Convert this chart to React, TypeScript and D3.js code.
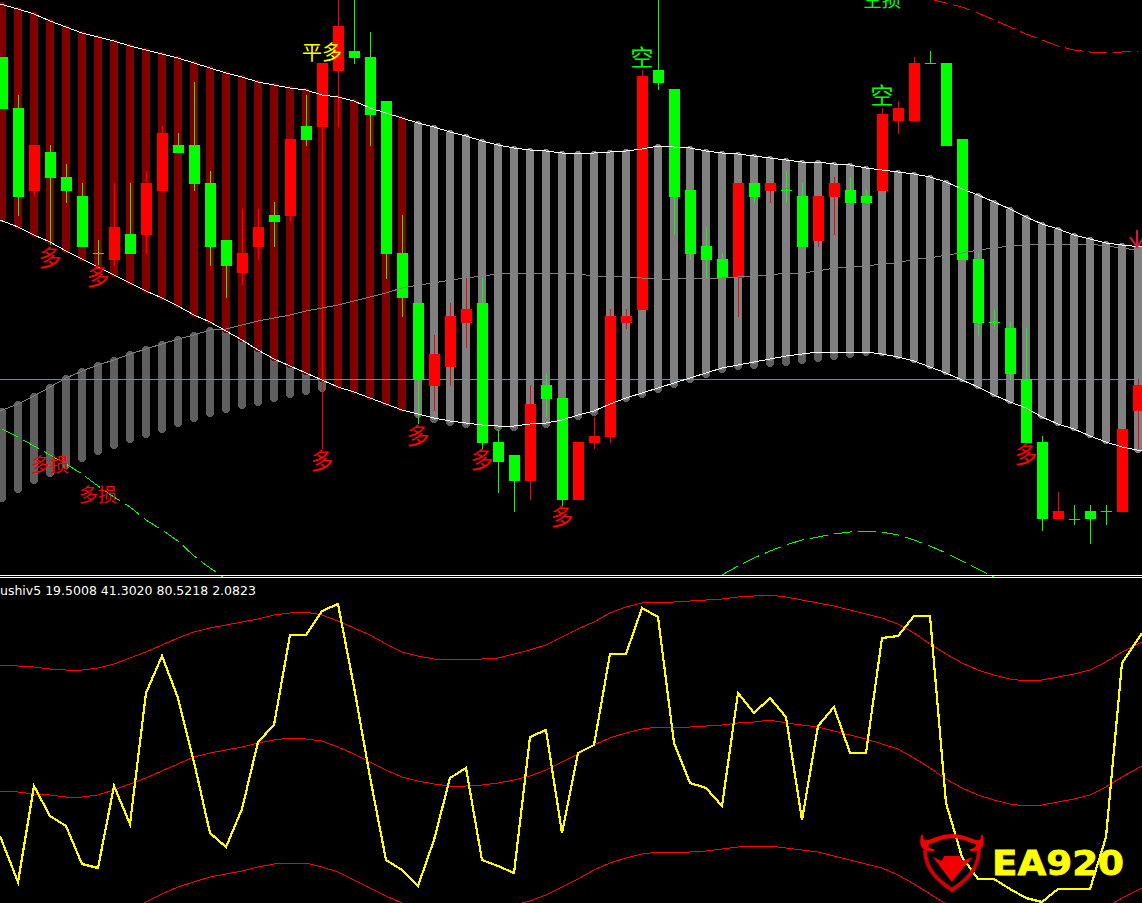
import React from 'react';
import * as d3 from 'd3';

const WIDTH = 1142;
const HEIGHT = 903;
const MAIN_BOTTOM = 575;

// candles, top to bottom in pane units
const candleColors = [
  'G', 'G', 'R', 'G', 'G', 'G', 'G', 'R', 'G', 'R',
  'R', 'G', 'G', 'G', 'G', 'R', 'R', 'G', 'R', 'G',
  'R', 'R', 'G', 'G', 'G', 'G', 'G', 'R', 'R', 'R',
  'G', 'G', 'G', 'R', 'G', 'G', 'R', 'R', 'R', 'R',
  'R', 'G', 'G', 'G', 'G', 'G', 'R', 'G', 'R', 'G',
  'G', 'R', 'R', 'G', 'G', 'R', 'R', 'R', 'G', 'G',
  'G', 'G', 'G', 'G', 'G', 'G', 'R', 'G', 'G', 'G',
  'R', 'R',
];
const wickTop = [
  57, 95, 145, 145, 164, 183, 240, 183, 183, 171, 126, 133, 82, 171, 240, 209, 209, 202,
  139, 95, 63, 0, 0, 32, 101, 215, 303, 335, 303, 278, 278, 430, 455, 385, 373, 398,
  442, 417, 309, 309, 70, 0, 89, 190, 227, 253, 183, 183, 183, 171, 183, 196, 177, 177,
  190, 108, 101, 57, 51, 63, 139, 253, 309, 322, 328, 436, 492, 505, 505, 505, 429, 379,
];
const wickBottom = [
  109, 216, 197, 245, 203, 247, 265, 266, 254, 254, 191, 153, 191, 266, 298, 285, 260, 247,
  222, 146, 449, 127, 64, 146, 279, 317, 424, 411, 386, 348, 449, 493, 512, 500, 418, 506,
  500, 449, 443, 329, 310, 90, 235, 260, 278, 278, 317, 203, 203, 203, 247, 247, 235, 203,
  203, 191, 134, 121, 63, 146, 260, 336, 329, 380, 443, 531, 519, 525, 544, 525, 512, 449,
];
const bodyTop = [
  57, 108, 145, 152, 177, 196, 253, 227, 234, 183, 133, 145, 145, 183, 240, 253, 227, 215,
  139, 126, 63, 26, 51, 57, 101, 253, 303, 354, 316, 309, 303, 442, 455, 404, 385, 398,
  442, 436, 316, 316, 76, 70, 89, 190, 246, 259, 183, 183, 183, 190, 196, 196, 183, 190,
  196, 114, 108, 63, 63, 63, 139, 259, 322, 328, 379, 442, 511, 519, 511, 511, 429, 385,
];
const bodyBottom = [
  109, 197, 191, 178, 191, 247, 253, 260, 254, 235, 191, 153, 184, 247, 266, 273, 247, 222,
  216, 140, 127, 71, 58, 115, 254, 298, 380, 386, 367, 323, 443, 462, 481, 481, 399, 500,
  500, 443, 437, 323, 310, 83, 197, 254, 260, 278, 278, 197, 191, 190, 247, 241, 197, 203,
  203, 191, 121, 121, 63, 146, 260, 323, 322, 374, 443, 519, 519, 519, 519, 511, 512, 411,
];

// channel around the candles
const upperBand = [
  4, 9, 14, 21, 27, 33, 37, 41, 46, 50, 54, 58, 63, 68, 73, 77, 82, 85,
  88, 90, 95, 97, 101, 108, 113, 118, 123, 127, 132, 136, 141, 145, 148, 150, 151, 153,
  153, 153, 152, 151, 149, 146, 147, 148, 151, 153, 154, 156, 158, 160, 162, 162, 164, 165,
  168, 170, 172, 174, 177, 182, 189, 195, 202, 209, 217, 224, 229, 235, 239, 243, 245, 247,
];
const lowerBand = [
  220, 227, 235, 242, 251, 259, 267, 275, 283, 291, 298, 306, 315, 322, 331, 340, 350, 359,
  366, 373, 380, 387, 392, 398, 404, 410, 414, 418, 421, 423, 425, 426, 426, 424, 423, 420,
  415, 411, 404, 398, 393, 388, 383, 378, 373, 368, 365, 362, 359, 356, 354, 352, 352, 352,
  352, 354, 357, 361, 367, 373, 380, 387, 395, 402, 408, 417, 424, 429, 436, 442, 447, 451,
];
const midLine = [
  411, 404, 396, 387, 378, 371, 365, 360, 354, 349, 344, 339, 335, 330, 329, 325, 321, 318,
  315, 311, 308, 305, 301, 297, 293, 288, 285, 283, 280, 278, 276, 274, 273, 273, 273, 273,
  274, 276, 276, 277, 278, 279, 279, 278, 278, 278, 277, 276, 275, 273, 273, 271, 268, 267,
  266, 264, 263, 259, 258, 255, 253, 250, 248, 246, 245, 244, 244, 244, 244, 246, 248, 251,
];
const dimBottom = [
  502, 493, 484, 477, 469, 462, 455, 449, 443, 438, 433, 427, 422, 417, 413, 409, 406, 402,
  398, 395, 392, 388, 390, 395, 400, 408, 418, 423, 426, 428, 430, 431, 431, 429, 428, 425,
  420, 416, 408, 402, 398, 393, 388, 383, 378, 373, 370, 369, 367, 366, 364, 362, 360, 358,
  356, 355, 358, 362, 368, 374, 381, 388, 396, 403, 409, 418, 425, 430, 437, 443, 448, 452,
];
const redBarCount = 26;
const priceLevel = 379;

// stop lines, each with the bar it starts on
const stopGreenLeft = [429, 437, 446, 455, 464, 474, 486, 497, 507, 520, 530, 541, 556, 568, 579];
const stopGreenRightStart = 45;
const stopGreenRight = [575, 566, 558, 551, 545, 540, 537, 534, 532, 531, 532, 535, 540, 546, 553, 561, 569, 577];
const stopRedStart = 58;
const stopRed = [-1, 3, 7, 13, 20, 27, 34, 40, 46, 50, 52, 52, 52, 51];

// bottom pane
const rsiLine = [
  836, 882, 786, 816, 826, 864, 868, 786, 824, 693, 656, 698, 762, 833, 847, 809, 742, 725,
  635, 635, 611, 604, 687, 777, 860, 870, 886, 840, 778, 768, 860, 866, 873, 737, 730, 833,
  753, 745, 654, 654, 608, 617, 743, 783, 788, 806, 693, 713, 698, 717, 820, 726, 707, 753,
  753, 638, 636, 616, 616, 803, 857, 879, 879, 889, 898, 902, 889, 889, 889, 837, 663, 633,
];
const rsiUpper = [
  665, 666, 667, 669, 670, 670, 668, 664, 658, 652, 645, 638, 632, 628, 625, 622, 619, 615,
  613, 612, 615, 621, 628, 635, 644, 652, 656, 659, 659, 659, 659, 658, 654, 650, 645, 637,
  629, 622, 613, 607, 603, 602, 602, 601, 600, 599, 597, 596, 595, 597, 600, 603, 606, 610,
  614, 618, 624, 633, 644, 654, 663, 670, 675, 679, 681, 680, 677, 674, 670, 662, 652, 642,
];
const rsiMiddle = [
  791, 792, 794, 795, 797, 797, 795, 790, 784, 778, 771, 764, 757, 753, 750, 747, 743, 740,
  738, 739, 741, 747, 754, 762, 770, 777, 781, 784, 786, 786, 785, 783, 780, 776, 770, 762,
  754, 745, 738, 733, 729, 727, 727, 727, 726, 725, 723, 722, 720, 723, 725, 727, 731, 735,
  739, 744, 749, 758, 768, 779, 788, 795, 800, 804, 806, 805, 802, 799, 795, 787, 777, 766,
];
const rsiLower = [
  916, 917, 919, 920, 922, 922, 920, 915, 909, 902, 894, 887, 882, 877, 874, 871, 867, 864,
  863, 863, 867, 872, 880, 888, 896, 903, 906, 909, 911, 911, 910, 908, 905, 901, 895, 887,
  879, 870, 863, 858, 854, 852, 852, 852, 851, 849, 847, 846, 846, 848, 850, 852, 856, 860,
  864, 868, 875, 884, 894, 904, 913, 920, 925, 929, 931, 930, 927, 924, 918, 908, 898, 888,
];

// arrow labels on the chart
const labelTexts = ['多', '多', '多', '多', '多', '多', '多', '多损', '多损', '平多', '空', '空', '空损'];
const labelBars = [3, 6, 20, 26, 30, 35, 64, 3, 6, 20, 40, 55, 55];
const labelLevels = [258, 277, 461, 436, 460, 517, 455, 465, 495, 53, 58, 96, 0];
const labelSizes = [23, 23, 23, 23, 23, 23, 23, 19, 19, 20, 23, 23, 19];
const labelColors = ['#ff0000', '#ff0000', '#ff0000', '#ff0000', '#ff0000', '#ff0000', '#ff0000', '#ff0000', '#ff0000', '#ffff00', '#00ff00', '#00ff00', '#00ff00'];

const caption = 'ushiv5 19.5008 41.3020 80.5218 2.0823';

const x = d3.scaleLinear().domain([0, 71]).range([2, 1138]);
const y = d3.scaleLinear().domain([0, HEIGHT]).range([0, HEIGHT]);

const pathFrom = (values: number[], start = 0) =>
  d3
    .line<number>()
    .x((_, i) => x(i + start))
    .y((d) => y(d))(values) ?? '';

// full-width series run right up to the pane edges
const edgePath = (values: number[]) =>
  d3
    .line<number>()
    .x((_, i) => (i === 0 ? 0 : i === values.length - 1 ? WIDTH : x(i)))
    .y((d) => y(d))(values) ?? '';

const App: React.FC = () => {
  return (
    <svg
      width={WIDTH}
      height={HEIGHT}
      style={{ position: 'absolute', left: 0, top: 0, background: '#000' }}>
      {/* histogram behind the candles */}
      <g shapeRendering="crispEdges">
        {midLine.map((d, i) => (
          <rect key={i} x={x(i) - 4} y={y(d - 3)} width={8} height={y(dimBottom[i]) - y(d - 3)} rx={4} fill="#5f5f5f" />
        ))}
        {upperBand.map((d, i) => (
          <rect
            key={i}
            x={x(i) - 4}
            y={y(d - 2)}
            width={8}
            height={y(lowerBand[i] + 2) - y(d - 2)}
            rx={4}
            fill={i < redBarCount ? '#800000' : '#808080'}
          />
        ))}
        <line x1={0} x2={WIDTH} y1={y(priceLevel) + 0.5} y2={y(priceLevel) + 0.5} stroke="#778899" />
      </g>

      {/* candles */}
      <g shapeRendering="crispEdges">
        {wickTop.map((d, i) => {
          const color = candleColors[i] === 'G' ? '#00ff00' : '#ff0000';
          return (
            <g key={i}>
              <rect x={x(i)} y={y(d)} width={1} height={y(wickBottom[i]) - y(d)} fill={color} />
              <rect
                x={x(i) - 5}
                y={y(bodyTop[i])}
                width={11}
                height={Math.max(1, y(bodyBottom[i]) - y(bodyTop[i]))}
                fill={color}
              />
            </g>
          );
        })}
      </g>

      {/* channel and stop lines */}
      <g fill="none" shapeRendering="crispEdges">
        <path d={edgePath(midLine)} stroke="#808080" />
        <path d={edgePath(upperBand)} stroke="#ffffff" />
        <path d={edgePath(lowerBand)} stroke="#ffffff" />
        <path d={pathFrom(stopGreenLeft)} stroke="#00ff00" strokeDasharray="18 6" />
        <path d={pathFrom(stopGreenRight, stopGreenRightStart)} stroke="#00ff00" strokeDasharray="18 6" />
        <path d={pathFrom(stopRed, stopRedStart)} stroke="#ff0000" strokeDasharray="18 6" />
      </g>

      {/* down arrow on the last bar */}
      <g fill="none" stroke="#dc143c" strokeWidth={2}>
        <line x1={x(71) - 1} x2={x(71) - 1} y1={y(230)} y2={y(247)} />
        <path d={`M${x(71) - 8} ${y(237)}L${x(71) - 1} ${y(247)}L${x(71) + 6} ${y(237)}`} />
      </g>

      {/* labels */}
      <g fontFamily="'Noto Sans CJK SC'" textAnchor="middle" dominantBaseline="central">
        {labelTexts.map((t, i) => (
          <text key={i} x={x(labelBars[i])} y={y(labelLevels[i]) - 2} fontSize={labelSizes[i]} fill={labelColors[i]}>
            {t}
          </text>
        ))}
      </g>

      {/* pane separator */}
      <g stroke="#ffffff" shapeRendering="crispEdges">
        <line x1={0} x2={WIDTH} y1={MAIN_BOTTOM + 0.5} y2={MAIN_BOTTOM + 0.5} />
        <line x1={0} x2={WIDTH} y1={MAIN_BOTTOM + 2.5} y2={MAIN_BOTTOM + 2.5} />
      </g>
      <rect x={0} y={MAIN_BOTTOM + 3} width={WIDTH} height={HEIGHT - MAIN_BOTTOM - 3} fill="#000" />

      <text x={0} y={595} fontFamily="'DejaVu Sans'" fontSize={12.5} fill="#ffffff">
        {caption}
      </text>

      {/* bottom pane */}
      <g fill="none" shapeRendering="crispEdges">
        <path d={edgePath(rsiUpper)} stroke="#ff0000" />
        <path d={edgePath(rsiMiddle)} stroke="#ff0000" />
        <path d={edgePath(rsiLower)} stroke="#ff0000" />
        <path d={edgePath(rsiLine)} stroke="#ffff00" strokeWidth={2.2} />
      </g>

      {/* EA920 logo */}
      <g>
        <path
          d="M922 835C918 848 926 852 934 850C925 848 926 843 934 842C945 836 960 836 971 842C979 843 979 848 970 850C978 852 986 848 982 835C982 845 975 840 968 838C958 834 946 834 936 838C929 840 923 845 922 835Z"
          fill="#f00000"
          stroke="#f00000"
          strokeWidth={1.5}
        />
        <path d="M925 850C925 870 940 882 952 890C964 882 979 870 979 850" fill="none" stroke="#d00000" strokeWidth={4} />
        <path d="M933 857L942 861L944 856L960 856L962 861L973 857L963 868L952 882L941 868Z" fill="#f00000" />
        <text
          x={992}
          y={875}
          fontFamily="'DejaVu Sans'"
          fontWeight="bold"
          fontSize={34}
          fill="#ffff00"
          stroke="#ffff00"
          strokeWidth={0.8}
          textLength={132}
          lengthAdjust="spacingAndGlyphs">
          EA920
        </text>
      </g>
    </svg>
  );
};

export default App;
